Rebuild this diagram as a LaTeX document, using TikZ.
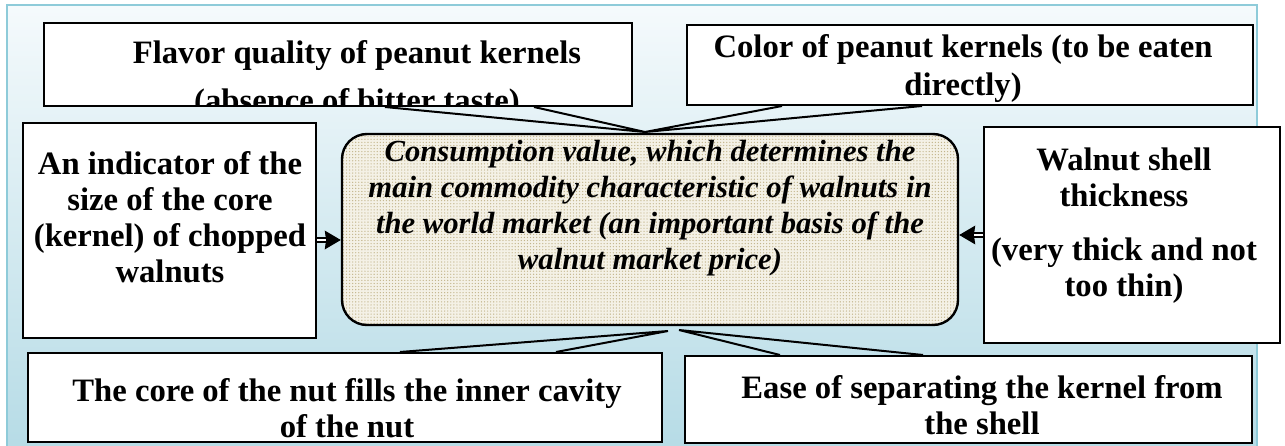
\documentclass[tikz,border=0pt]{standalone}
\usepackage{fontspec}
\setmainfont{Liberation Serif}
\usetikzlibrary{arrows.meta,patterns.meta}
\definecolor{panelTop}{HTML}{F5FAFC}
\definecolor{panelBot}{HTML}{B3DAE5}
\definecolor{panelEdge}{HTML}{8ECBD9}
\definecolor{dotfill}{HTML}{F4F1E6}
\definecolor{dotcol}{HTML}{C2B48A}
\tikzset{
  box/.style={draw=black, line width=1.5pt, fill=white, inner sep=0pt},
  txt/.style={font=\fontsize{24.5}{27}\selectfont\bfseries, align=center, inner sep=0pt, text=black},
  ctxt/.style={font=\fontsize{23}{27}\selectfont\bfseries\itshape, align=center, inner sep=0pt, text=black},
  wedge/.style={draw=black, line width=1.5pt, line join=miter},
  dblarrow/.style={line width=0.9pt, double distance=2.2pt, -{Stealth[length=12pt,width=14pt,inset=1pt]}}
}
\begin{document}
\begin{tikzpicture}[x=0.75pt,y=-0.75pt]
\useasboundingbox (0,0) rectangle (1285,446);
% background panel
\shade[top color=panelTop, bottom color=panelBot, draw=panelEdge, line width=1.5pt] (7,5) rectangle (1257,470);
% boxes
\node[box, minimum width=441pt, minimum height=62.25pt,
  path picture={\node[txt] (flavorT) at ([shift={(19,15)}]path picture bounding box.center) {Flavor quality of peanut kernels\\[9pt](absence of bitter taste)};}] (flavor) at (338,64.5) {};
\node[box, minimum width=424.5pt, minimum height=60pt] (color) at (970,65) {};
\node[txt] (colorT) at (963,69) {Color of peanut kernels (to be eaten\\[1.5pt]directly)};
\node[box, minimum width=219.75pt, minimum height=161.25pt] (left) at (169.5,230.5) {};
\node[txt] (leftT) at (170,217) {An indicator of the\\size of the core\\(kernel) of chopped\\walnuts};
\node[draw=black, line width=1.8pt, rounded corners=18.75pt, minimum width=462pt, minimum height=143.25pt, inner sep=0pt,
  preaction={fill=dotfill}, pattern={Dots[distance=2.3pt, radius=0.5pt]}, pattern color=dotcol] (center) at (650,229.5) {};
\node[ctxt] (centerT) at (650,208) {Consumption value, which determines the\\main commodity characteristic of walnuts in\\the world market (an important basis of the\\walnut market price)};
\node[box, minimum width=222pt, minimum height=162pt] (right) at (1132,235) {};
\node[txt] (rightT) at (1124,226) {Walnut shell\\thickness\\[13.5pt](very thick and not\\too thin)};
\node[box, minimum width=475.5pt, minimum height=66.75pt] (bl) at (345,397.5) {};
\node[txt] (blT) at (347,408) {The core of the nut fills the inner cavity\\of the nut};
\node[box, minimum width=425.25pt, minimum height=65.25pt] (br) at (968.5,399.5) {};
\node[txt] (brT) at (982,405) {Ease of separating the kernel from\\the shell};
% callout tips
\coordinate (tipT) at (645,132);
\coordinate (tipBL) at (668,331);
\coordinate (tipBR) at (679,330);
\draw[wedge] (flavor.south -| 385,0) -- (tipT) -- (flavor.south -| 534,0);
\draw[wedge] (color.south -| 782,0) -- (tipT) -- (color.south -| 922,0);
\draw[wedge] (bl.north -| 400,0) -- (tipBL) -- (bl.north -| 556,0);
\draw[wedge] (br.north -| 780,0) -- (tipBR) -- (br.north -| 923,0);
% arrows
\draw[dblarrow] (left.east |- 0,240) -- (center.west |- 0,240);
\draw[dblarrow] (right.west |- 0,235) -- (center.east |- 0,235);
\end{tikzpicture}
\end{document}
